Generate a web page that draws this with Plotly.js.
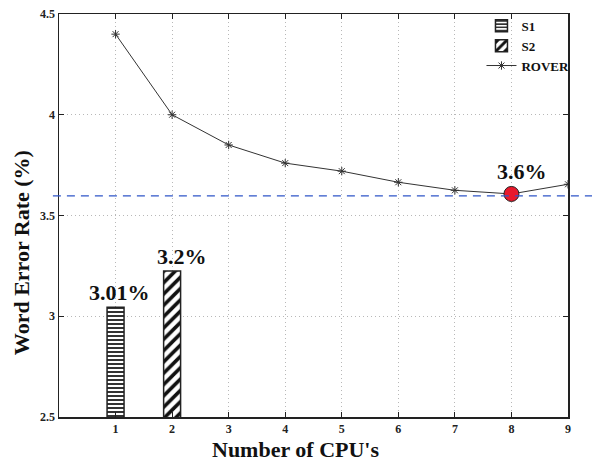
<!DOCTYPE html>
<html><head><meta charset="utf-8">
<script src="https://cdn.plot.ly/plotly-3.0.1.min.js"></script>
<style>html,body{margin:0;padding:0;background:#fff}#chart{width:592px;height:462px}</style>
</head><body><div id="chart"></div>
<script>
const cpus = [1,2,3,4,5,6,7,8,9];
const rover = [4.40,4.00,3.85,3.76,3.72,3.665,3.625,3.607,3.655];
const s1X = [1], s1Y = [3.045];
const s2X = [2], s2Y = [3.225];
const baseline = 3.597;
const best = {x: 8, y: 3.607, label: '3.6%'};
const barLabels = ['3.01%','3.2%'];
const xTicks = [1,2,3,4,5,6,7,8,9];
const yTicks = [2.5,3,3.5,4,4.5];
const xTitle = "Number of CPU's";
const yTitle = 'Word Error Rate (%)';

const F = 'Liberation Serif';
const traces = [
  {type:'bar', name:'S1', x:s1X, y:s1Y, base:0, width:0.3,
   marker:{color:'#fff', line:{color:'#222', width:1.5}, pattern:{shape:'-', fgcolor:'#333', bgcolor:'#fff', size:4, solidity:0.5}}},
  {type:'bar', name:'S2', x:s2X, y:s2Y, base:0, width:0.3,
   marker:{color:'#fff', line:{color:'#222', width:1.5}, pattern:{shape:'/', fgcolor:'#111', bgcolor:'#fff', size:8, solidity:0.45}}},
  {type:'scatter', mode:'lines+markers', name:'ROVER', x:cpus, y:rover,
   line:{color:'#333', width:1}, marker:{symbol:'asterisk-open', size:7, color:'#333', line:{color:'#333', width:1}}},
  {type:'scatter', mode:'markers', showlegend:false, x:[best.x], y:[best.y],
   marker:{color:'#e8192c', size:15, line:{color:'#222', width:1}}, hoverinfo:'skip'}
];
const layout = {
  width:592, height:462,
  margin:{l:59, r:24, t:14, b:45, autoexpand:false},
  paper_bgcolor:'#fff', plot_bgcolor:'#fff',
  barmode:'overlay',
  showlegend:true,
  legend:{x:0.83, y:1.008, xanchor:'left', yanchor:'top', bgcolor:'rgba(255,255,255,0)', font:{family:F, size:13, color:'#111', weight:'bold'}, tracegroupgap:0, itemwidth:30},
  xaxis:{range:[0,9], tickvals:xTicks, ticks:'inside', ticklen:5, tickcolor:'#222', mirror:'ticks',
    showline:true, linecolor:'#222', linewidth:1.5,
    showgrid:true, gridcolor:'#b8b8b8', griddash:'1px,3px', gridwidth:1, zeroline:false,
    tickfont:{family:F, size:12, color:'#222', weight:'bold'}},
  yaxis:{range:[2.5,4.5], tickvals:yTicks, ticktext:['2.5','3','3.5','4','4.5'], ticks:'inside', ticklen:5, tickcolor:'#222', mirror:'ticks',
    showline:true, linecolor:'#222', linewidth:1.5,
    showgrid:true, gridcolor:'#b8b8b8', griddash:'1px,3px', gridwidth:1, zeroline:false,
    tickfont:{family:F, size:12, color:'#222', weight:'bold'}},
  shapes:[{type:'line', xref:'paper', yref:'y', x0:-0.012, x1:1.05, y0:baseline, y1:baseline,
    line:{color:'#2f55c8', width:1.2, dash:'8px,6px'}}],
  annotations:[
    {x:s1X[0], y:s1Y[0], text:barLabels[0], showarrow:false, yanchor:'bottom', xshift:4, yshift:0, font:{family:F, size:22, color:'#111', weight:'bold'}},
    {x:s2X[0], y:s2Y[0], text:barLabels[1], showarrow:false, yanchor:'bottom', xshift:10, yshift:0, font:{family:F, size:22, color:'#111', weight:'bold'}},
    {x:best.x, y:best.y, text:best.label, showarrow:false, yanchor:'bottom', xshift:11, yshift:8, font:{family:F, size:22, color:'#111', weight:'bold'}},
    {xref:'paper', yref:'paper', x:0.4656, y:-0.08, xanchor:'center', yanchor:'middle', text:xTitle, showarrow:false, font:{family:F, size:22, color:'#111', weight:'bold'}},
    {xref:'paper', yref:'paper', x:-0.0747, y:0.409, xanchor:'center', yanchor:'middle', textangle:-90, text:yTitle, showarrow:false, font:{family:F, size:22, color:'#111', weight:'bold'}}
  ]
};
Plotly.newPlot('chart', traces, layout, {displayModeBar:false, staticPlot:true});
</script></body></html>
